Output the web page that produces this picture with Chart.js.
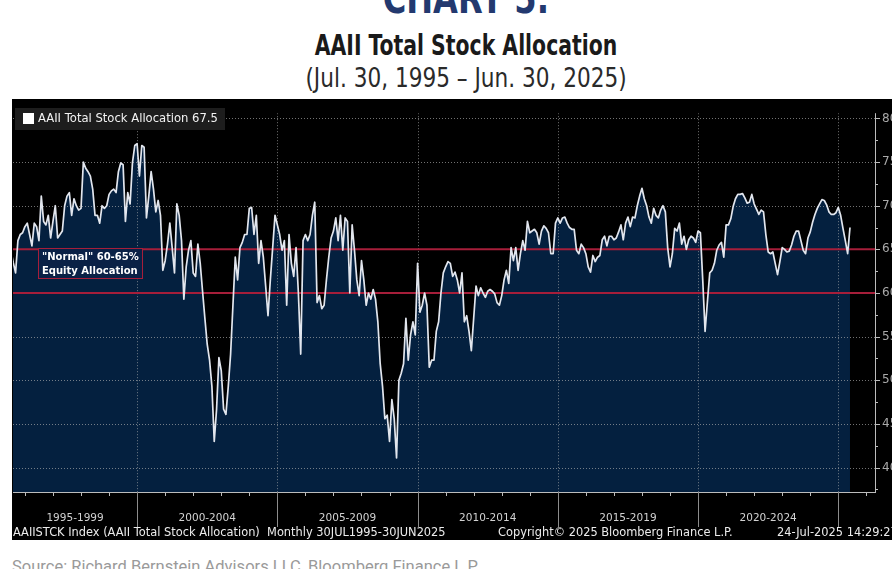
<!DOCTYPE html>
<html><head><meta charset="utf-8">
<script src="https://cdn.jsdelivr.net/npm/chart.js@4.4.1/dist/chart.umd.min.js"></script>
<style>
html,body{margin:0;padding:0;background:#fff;width:892px;height:569px;overflow:hidden;position:relative;}
.hdr{position:absolute;left:0;width:932px;text-align:center;font-family:"Liberation Sans Narrow","DejaVu Sans Condensed",sans-serif;white-space:nowrap;transform-origin:466px 0;}
#kicker{top:-23px;font-size:42px;font-weight:bold;color:#23396f;line-height:44px;transform:scaleX(0.85);}
#title{top:31px;font-size:28px;font-weight:bold;color:#1a1a1a;line-height:30px;transform:scaleX(0.81);}
#subtitle{top:63px;font-size:27px;color:#2a2a2a;line-height:30px;transform:scaleX(0.89);}
#wrap{position:absolute;left:12px;top:99px;width:880px;height:441px;}
#source{position:absolute;left:12px;top:558px;font-family:Roboto,"Liberation Sans",sans-serif;font-size:16.5px;line-height:18px;color:#9a9a9a;white-space:nowrap;}
</style></head>
<body>
<div class="hdr" id="kicker">CHART 5:</div>
<div class="hdr" id="title">AAII Total Stock Allocation</div>
<div class="hdr" id="subtitle">(Jul. 30, 1995 – Jun. 30, 2025)</div>
<div id="wrap"><canvas id="c" width="880" height="441"></canvas></div>
<div id="source">Source: Richard Bernstein Advisors LLC, Bloomberg Finance L.P.</div>
<script>
// ---- DATA (monthly) ----
const startYear = 1995, startMonth = 7;           // first observation: Jul 1995
const seriesName = 'AAII Total Stock Allocation';
// Jul 1995 - Dec 1999
const p1995 = [64.9,63.5,62.3,66.0,66.7,66.9,67.6,68.0,66.7,65.4,68.0,67.6,66.0,71.1,68.2,67.8,68.9,66.3,68.2,70.0,
  66.3,66.7,67.1,70.0,71.1,71.5,68.9,70.8,70.0,69.5,69.7,75.0,74.3,73.9,73.4,71.9,68.9,68.9,68.0,70.0,
  69.7,70.0,71.3,71.7,71.9,71.5,73.9,74.9,74.7,68.2,71.5,70.2,74.9,76.9];
// 2000 - 2004
const p2000 = [77.1,73.4,76.9,76.7,68.6,71.1,73.9,71.9,69.3,70.6,68.9,62.6,63.7,65.6,68.0,65.2,62.3,70.2,68.9,66.0,
  59.3,63.0,64.9,66.0,62.3,61.9,65.6,63.4,60.2,57.1,54.1,52.3,49.3,43.0,46.7,52.6,51.1,46.7,46.1,49.3,
  53.0,58.6,64.1,61.5,65.2,65.8,66.7,66.7,69.7,69.8,66.7,68.9,63.4,66.0,64.1,60.8,57.4,61.5,65.2,68.9];
// 2005 - 2009
const p2005 = [67.8,66.7,64.9,66.0,58.6,66.7,63.4,61.9,65.2,60.0,53.0,66.0,66.7,66.0,66.7,68.9,70.4,58.9,59.7,58.2,
  58.6,61.5,64.1,66.3,67.1,68.6,66.0,68.9,64.9,68.6,68.2,60.0,67.8,64.9,61.5,59.7,63.7,61.5,58.6,60.0,
  59.3,60.4,59.3,56.7,51.9,49.3,45.6,46.0,43.0,47.8,45.6,41.1,50.0,50.8,51.9,57.1,52.3,55.2,56.7,55.2];
// 2010 - 2014
const p2010 = [63.4,57.8,58.6,60.0,58.6,51.5,52.3,52.3,55.6,56.7,60.0,62.3,63.0,63.6,63.4,61.9,62.4,61.5,60.0,62.3,
  56.7,57.4,55.6,53.4,57.1,60.8,59.7,60.6,60.0,59.5,60.2,60.4,60.2,59.9,58.9,58.6,59.7,61.5,62.6,61.1,
  65.2,63.7,65.2,62.6,64.5,66.0,64.9,68.2,66.9,67.1,67.3,66.9,65.6,67.1,67.7,67.4,66.9,64.5,64.5,68.0];
// 2015 - 2019
const p2015 = [68.6,68.0,68.6,68.7,68.0,67.5,67.3,67.3,64.9,64.5,65.6,65.2,64.5,63.0,62.4,64.3,63.6,64.1,64.3,66.1,
  66.5,65.4,66.5,66.5,66.1,66.3,67.0,67.8,66.1,68.0,68.7,67.6,68.7,68.6,70.0,71.1,72.0,70.8,70.0,68.7,
  68.0,69.7,68.9,68.6,69.5,70.0,69.3,65.2,63.0,64.5,67.4,67.1,68.0,65.6,66.5,65.0,66.1,66.5,66.3,65.8];
// 2020 - 2024
const p2020 = [67.1,66.9,61.5,55.6,59.0,62.3,62.6,63.4,64.9,65.5,65.8,64.1,67.8,67.8,68.5,69.9,70.8,71.3,71.3,71.4,
  70.9,70.3,70.4,71.3,70.2,69.6,69.0,69.5,69.3,66.7,64.7,64.5,64.7,63.4,62.1,63.6,65.2,65.0,64.7,64.8,
  65.5,66.5,67.1,67.1,66.0,64.9,64.5,66.3,67.0,68.1,69.0,69.7,70.2,70.7,70.6,70.1,69.3,69.0,69.0,69.2];
// Jan 2025 - Jun 2025
const p2025 = [69.8,68.9,67.4,66.0,64.5,67.5];

const yTicks = [40,45,50,55,60,65,70,75,80];
const normalBand = [60, 65];
const periodLabels = ['1995-1999','2000-2004','2005-2009','2010-2014','2015-2019','2020-2024'];
const periodStarts = [1995,2000,2005,2010,2015,2020,2025];
const footerLeft = 'AAIISTCK Index (AAII Total Stock Allocation)  Monthly 30JUL1995-30JUN2025';
const footerMid = 'Copyright\u00A9 2025 Bloomberg Finance L.P.';
const footerRight = '24-Jul-2025 14:29:27';
const bandNote = ['"Normal" 60-65%', 'Equity Allocation'];

const allocation = [].concat(p1995, p2000, p2005, p2010, p2015, p2020, p2025);
const points = allocation.map((v, i) => ({x: i, y: v}));
const monthIndexOf = (year) => (year - startYear) * 12 - (startMonth - 1);

// ---- STYLE ----
const NAVY = '#04203f', RED = '#a61e3a', LINE = '#e2e6ee';

const decor = {
  id: 'decor',
  beforeDraw(chart) {
    const c = chart.ctx;
    c.save(); c.fillStyle = '#000'; c.fillRect(0, 0, chart.width, chart.height); c.restore();
  },
  afterDatasetDraw(chart, args) {
    if (args.index !== 0) return;
    const c = chart.ctx, a = chart.chartArea, xs = chart.scales.x, ys = chart.scales.y;
    c.save();
    c.beginPath(); c.rect(a.left, a.top, a.right - a.left, a.bottom - a.top); c.clip();
    c.strokeStyle = 'rgba(175,175,175,0.65)'; c.lineWidth = 1; c.setLineDash([1, 2]);
    yTicks.forEach(v => {
      const y = Math.round(ys.getPixelForValue(v)) + 0.5;
      c.beginPath(); c.moveTo(a.left, y); c.lineTo(a.right, y); c.stroke();
    });
    periodStarts.slice(1).forEach(Y => {
      const x = Math.round(xs.getPixelForValue(monthIndexOf(Y))) + 0.5;
      c.beginPath(); c.moveTo(x, a.top); c.lineTo(x, a.bottom); c.stroke();
    });
    c.setLineDash([]);
    c.strokeStyle = RED; c.lineWidth = 2;
    normalBand.forEach(v => {
      const y = ys.getPixelForValue(v);
      c.beginPath(); c.moveTo(a.left, y); c.lineTo(a.right, y); c.stroke();
    });
    c.restore();
  },
  afterDatasetsDraw(chart) {
    const c = chart.ctx, a = chart.chartArea, xs = chart.scales.x, ys = chart.scales.y;
    c.save();
    // axis lines
    c.strokeStyle = '#bcbcbc'; c.lineWidth = 1;
    c.beginPath(); c.moveTo(a.left, a.bottom + 0.5); c.lineTo(a.right + 1, a.bottom + 0.5);
    c.moveTo(a.right + 0.5, a.top); c.lineTo(a.right + 0.5, a.bottom + 1); c.stroke();
    // y tick marks (major + minor)
    yTicks.forEach(v => {
      const y = Math.round(ys.getPixelForValue(v)) + 0.5;
      c.beginPath(); c.moveTo(a.right, y); c.lineTo(a.right + 5, y); c.stroke();
      const ym = Math.round(ys.getPixelForValue(v - 2.5)) + 0.5;
      c.beginPath(); c.moveTo(a.right, ym); c.lineTo(a.right + 3, ym); c.stroke();
    });
    // x yearly ticks
    for (let Y = startYear + 1; Y <= 2026; Y++) {
      const x = Math.round(xs.getPixelForValue(monthIndexOf(Y))) + 0.5;
      if (x < a.left || x > a.right) continue;
      if (periodStarts.includes(Y)) continue;
      c.beginPath(); c.moveTo(x, a.bottom); c.lineTo(x, a.bottom + 4); c.stroke();
    }
    // period separators
    c.strokeStyle = '#8c8c8c';
    periodStarts.slice(1).forEach(Y => {
      const x = Math.round(xs.getPixelForValue(monthIndexOf(Y))) + 0.5;
      c.beginPath(); c.moveTo(x, a.bottom); c.lineTo(x, a.bottom + 35); c.stroke();
    });
    // period labels
    c.fillStyle = '#d2d2d2'; c.font = '10.5px "DejaVu Sans"'; c.textAlign = 'center'; c.textBaseline = 'middle';
    periodLabels.forEach((lab, i) => {
      const x0 = Math.max(a.left, xs.getPixelForValue(monthIndexOf(periodStarts[i])));
      const x1 = xs.getPixelForValue(monthIndexOf(periodStarts[i + 1]));
      c.fillText(lab, (x0 + x1) / 2, a.bottom + 26);
    });
    // footer
    c.fillStyle = '#ececec'; c.textAlign = 'left'; c.font = '11.4px "DejaVu Sans"';
    c.fillText(footerLeft, a.left, a.bottom + 41);
    c.fillText(footerMid, 486, a.bottom + 41);
    c.fillText(footerRight, 765, a.bottom + 41);
    // legend
    c.fillStyle = '#1d1d1d'; c.fillRect(3, 9, 210, 22);
    c.fillStyle = '#ffffff'; c.fillRect(11, 14, 11, 11);
    c.fillStyle = '#f2f2f2'; c.font = '11.6px "DejaVu Sans"';
    c.fillText(seriesName + ' ' + allocation[allocation.length - 1].toFixed(1), 26, 20);
    // band note
    c.fillStyle = '#0a2146'; c.fillRect(26.5, 149.5, 104, 30);
    c.strokeStyle = RED; c.lineWidth = 1; c.strokeRect(26.5, 149.5, 104, 30);
    c.fillStyle = '#ffffff'; c.font = 'bold 10px "DejaVu Sans"';
    c.fillText(bandNote[0], 30, 158);
    c.fillText(bandNote[1], 30, 172);
    c.restore();
  }
};

new Chart(document.getElementById('c'), {
  type: 'line',
  data: {
    datasets: [
      { label: seriesName + ' fill', data: points, order: 2, borderWidth: 0, backgroundColor: NAVY,
        fill: 'start', pointRadius: 0, tension: 0 },
      { label: seriesName, data: points, order: 1, borderColor: LINE, borderWidth: 1.7,
        fill: false, pointRadius: 0, tension: 0, borderJoinStyle: 'round' }
    ]
  },
  options: {
    responsive: false, animation: false, devicePixelRatio: 1,
    layout: { padding: { left: 1, top: 1, right: 0, bottom: 0 } },
    plugins: { legend: { display: false }, tooltip: { enabled: false }, title: { display: false } },
    scales: {
      x: { type: 'linear', min: 0.9, max: 369.7,
        afterFit: s => { s.height = 48; },
        ticks: { display: false }, grid: { display: false }, border: { display: false } },
      y: { position: 'right', min: 37.2, max: 80.6,
        afterBuildTicks: s => { s.ticks = yTicks.map(v => ({ value: v })); },
        afterFit: s => { s.width = 17; },
        grid: { display: false, drawTicks: false }, border: { display: false },
        ticks: { color: '#a9a9a9', padding: 7, font: { family: 'DejaVu Sans', size: 12 },
          callback: v => String(v) } }
    }
  },
  plugins: [decor]
});
</script>
</body></html>
